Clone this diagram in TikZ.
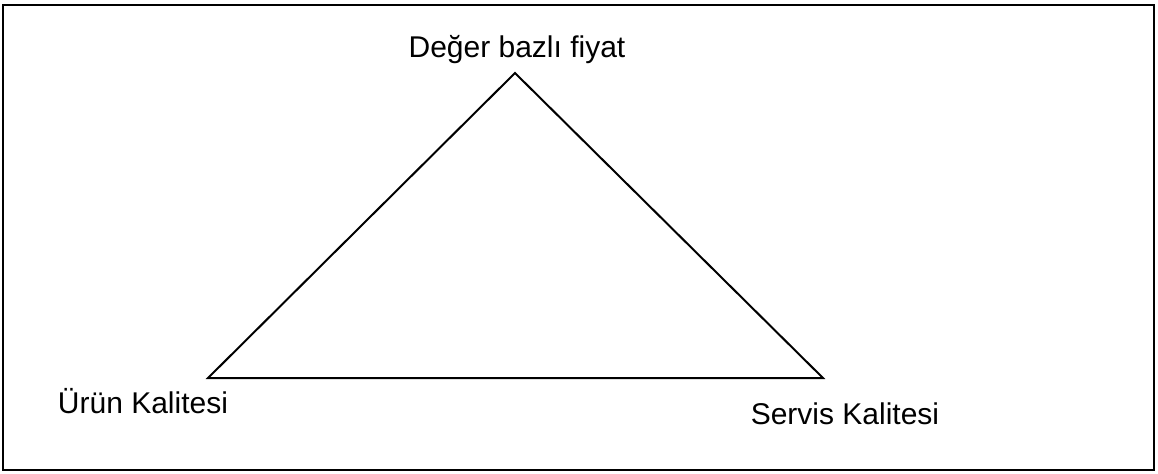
\documentclass[tikz,border=0pt]{standalone}
\usepackage{fontspec}
\setmainfont{Liberation Sans}
\begin{document}
\begin{tikzpicture}[x=0.5pt,y=-0.5pt,
    kose/.style={font=\fontsize{15}{18}\selectfont,inner sep=0pt,anchor=base}]
            \useasboundingbox (0,0) rectangle (1158,473);
            \draw[line width=1.2pt] (3,5) rectangle (1154,470);

            \coordinate (tepe) at (515,73);
            \coordinate (sol) at (208,378);
            \coordinate (sag) at (823,378);
            \draw[line width=1pt,line join=miter] (tepe) -- (sol) -- (sag) -- cycle;

            \node[kose] (fiyat) at (517,57) {Değer bazlı fiyat};
            \node[kose] (urun) at (143,413) {Ürün Kalitesi};
            \node[kose] (servis) at (845,424) {Servis Kalitesi};
        \end{tikzpicture}
\end{document}
